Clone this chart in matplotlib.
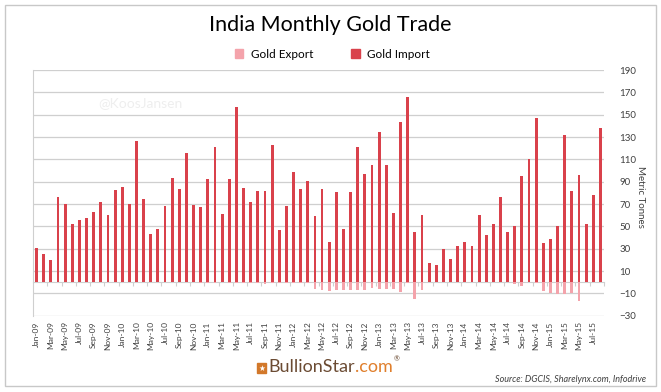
import matplotlib.pyplot as plt
import matplotlib.patches as mpatches
import numpy as np

# Monthly data, Jan-09 .. Aug-15 (metric tonnes)
months = []
for yr in range(9, 16):
    for m in ['Jan', 'Feb', 'Mar', 'Apr', 'May', 'Jun', 'Jul', 'Aug', 'Sep', 'Oct', 'Nov', 'Dec']:
        months.append('%s-%02d' % (m, yr))
months = months[:80]

gold_import = [31, 25.5, 20, 76, 70, 52, 56, 57.5, 62.5, 72, 60.5, 82.5,
               85, 70, 126, 74.5, 43.5, 48, 68.5, 93.5, 83.5, 115.5, 69.5, 67.5,
               92.5, 121.5, 61, 92, 157, 84, 72, 82, 81.5, 123, 47, 68,
               98.5, 83.5, 90.5, 59, 83, 36, 80.5, 47.5, 80.5, 121, 96.5, 104.5,
               134.5, 104.5, 62, 143.5, 165.5, 44.5, 60, 17, 15.5, 29.5, 20.5, 32,
               36, 32, 60, 42, 52.5, 76.5, 45, 50.5, 95, 110, 147, 35,
               38.5, 50.5, 131.5, 81.5, 96, 52, 78.5, 138]

gold_export = [0, 0, 0, 0, 0, 0, 0, 0, 0, 0, 0, 0,
               0, 0, 0, 0, 0, 0, 0, 0, 0, 0, 0, -0.5,
               -1, -0.5, 0, -0.5, -1, -1, -0.5, -0.5, -1.5, -1, -0.5, -1,
               -1, -1, -1, -6.5, -7.3, -8.2, -6.7, -7.3, -7, -7.3, -7, -5.5,
               -6, -6, -6.5, -8.5, -1, -15.4, -7, 0, 0, 0, 0, 0,
               0, 0, 0, 0, 0, 0, 0, -2, -3, 0, -1, -7.5,
               -9.5, -11, -11, -9.5, -16.5, 0, 0, 0]

y_ticks = list(range(-30, 191, 20))

imp_color = '#d9414b'
exp_color = '#f4a3ab'
grid_color = '#cfcfcf'
text_color = '#404040'

plt.rcParams['font.family'] = ['Lato', 'DejaVu Sans']

fig = plt.figure(figsize=(6.61, 3.92), dpi=100)
ax = fig.add_axes([33 / 661, 1 - 315.7 / 392, 571 / 661, 245.7 / 392])

x = np.arange(len(months))
ax.bar(x, gold_export, width=0.4, color=exp_color, zorder=3, label='Gold Export')
ax.bar(x, gold_import, width=0.4, color=imp_color, zorder=3, label='Gold Import')

ax.set_xlim(-0.5, len(months) - 0.5)
ax.set_ylim(-30, 190)
ax.set_yticks(y_ticks)
ax.yaxis.tick_right()
ax.tick_params(axis='y', length=0, pad=11, labelsize=7, labelcolor=text_color)
ax.yaxis.grid(True, color=grid_color, linewidth=0.9, zorder=0)
ax.set_axisbelow(True)

ax.set_xticks(x[::2])
ax.set_xticklabels(months[::2], rotation=90, fontsize=6, color=text_color)
ax.tick_params(axis='x', length=0, pad=4)

for s in ['top', 'right', 'bottom']:
    ax.spines[s].set_visible(False)
ax.spines['left'].set_color(grid_color)

# zero axis line with tick marks between every two months
zero_ax = ax.secondary_xaxis(30 / 220)
zero_ax.set_xticks(np.arange(1.5, len(months), 2))
zero_ax.set_xticklabels([])
zero_ax.tick_params(axis='x', direction='out', length=3, color=grid_color)
zero_ax.spines['bottom'].set_color(grid_color)
zero_ax.spines['bottom'].set_zorder(4)

fig.text(330 / 661, 1 - 25 / 392, 'India Monthly Gold Trade', ha='center', va='center',
         fontsize=15.5, color='black')

handles = [mpatches.Patch(color=exp_color, label='Gold Export'),
           mpatches.Patch(color=imp_color, label='Gold Import')]
fig.legend(handles=handles, loc='center', bbox_to_anchor=(332 / 661, 1 - 54 / 392), ncol=2,
           frameon=False, fontsize=8.5, handlelength=0.75, handleheight=0.75,
           handletextpad=0.6, columnspacing=3.2, labelcolor='black')

fig.text(140 / 661, 1 - 103 / 392, '@KoosJansen', ha='center', va='center',
         fontsize=10, color='#eeeeee')

fig.text(641 / 661, 1 - 197 / 392, 'Metric Tonnes', rotation=270, ha='center', va='center',
         fontsize=7, color=text_color)

fig.text(646 / 661, 1 - 379 / 392, 'Source: DGCIS, Sharelynx.com, Infodrive', ha='right',
         va='center', fontsize=6.5, style='italic', color=text_color)

# logo
fig.patches.append(mpatches.Rectangle((257 / 661, 1 - 373 / 392), 9 / 661, 10 / 392,
                                      transform=fig.transFigure, color='#d2782a'))
fig.text(261.5 / 661, 1 - 368 / 392, '★', ha='center', va='center', fontsize=5.5,
         color='white')
t1 = fig.text(268 / 661, 1 - 367 / 392, 'BullionStar', ha='left', va='center',
              fontsize=13, color='#6b4b33')
fig.canvas.draw()
bb = t1.get_window_extent()
t2 = fig.text(bb.x1 / 661, 1 - 367 / 392, '.com', ha='left', va='center',
              fontsize=13, color='#e07f2c')
fig.canvas.draw()
bb2 = t2.get_window_extent()
fig.text(bb2.x1 / 661 + 0.002, 1 - 359 / 392, '®', ha='left', va='center',
         fontsize=5, color='#6b4b33')

# light border round the whole chart
fig.patches.append(mpatches.Rectangle((5 / 661, 6 / 392), 651 / 661, 381 / 392,
                                      transform=fig.transFigure, fill=False,
                                      edgecolor='#c8c8c8', linewidth=1))

fig.savefig('out.png', dpi=100)
